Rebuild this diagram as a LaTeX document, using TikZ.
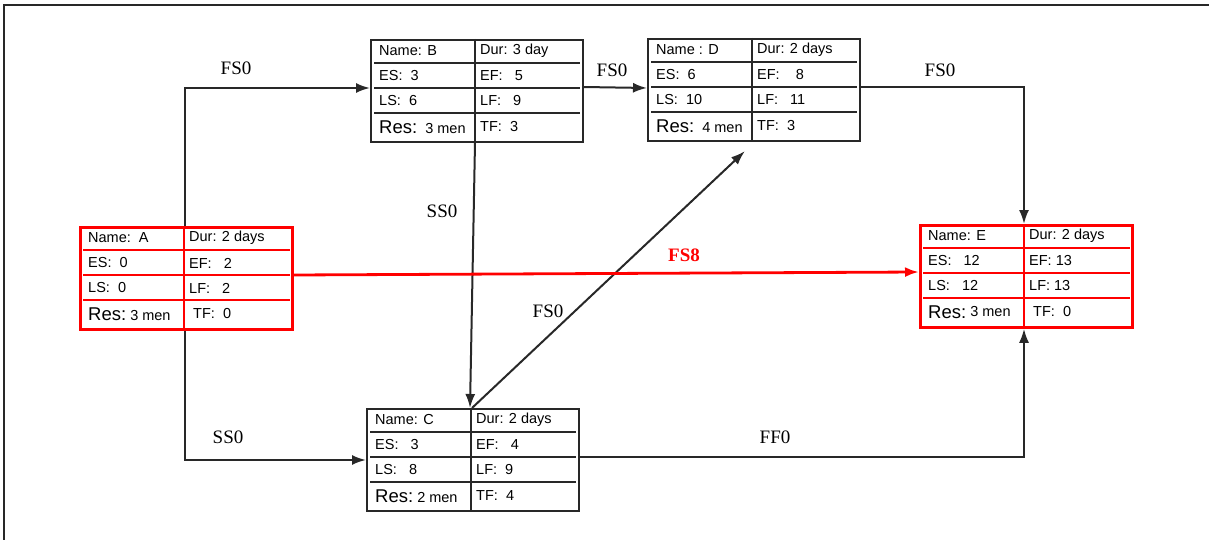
\documentclass[tikz,border=0pt]{standalone}
\usepackage{fontspec}
\setmainfont{Liberation Serif}
\newfontfamily\cellfont{Liberation Sans}
\usepackage{tikz}
\usetikzlibrary{arrows.meta,calc}
\definecolor{ink}{RGB}{40,40,40}
\definecolor{crit}{RGB}{255,0,0}

% inner lines of an activity table: node name, line style
\newcommand{\actgrid}[2]{%
  \draw[#2] ($(#1.north west)+(105,0)$) -- ($(#1.south west)+(105,0)$);
  \foreach \yy in {24,49,74}
    \draw[#2] ($(#1.north west)+(4,\yy)$) -- ($(#1.north east)+(-4,\yy)$);
}
% the eight cells of an activity table
\newcommand{\acttext}[9]{%
  \node[cell] (#1-name) at ($(#1.north west)+(9,12)$) {#2};
  \node[cell] (#1-dur) at ($(#1.north west)+(110,12)$) {#3};
  \node[cell] (#1-es) at ($(#1.north west)+(9,37)$) {#4};
  \node[cell] (#1-ef) at ($(#1.north west)+(110,37)$) {#5};
  \node[cell] (#1-ls) at ($(#1.north west)+(9,62)$) {#6};
  \node[cell] (#1-lf) at ($(#1.north west)+(110,62)$) {#7};
  \node[cell] (#1-res) at ($(#1.north west)+(9,88)$) {#8};
  \node[cell] (#1-tf) at ($(#1.north west)+(110,88)$) {#9};
}
\newcommand{\resmen}[1]{{\fontsize{18.5}{20}\selectfont Res:}~#1}

\begin{document}
\begin{tikzpicture}[x=1pt,y=-1pt,>={Latex[length=14pt,width=10pt]},
  act/.style={draw=ink,line width=1.6pt,minimum width=212pt,minimum height=102pt,anchor=north west,inner sep=0pt},
  critact/.style={act,draw=crit,line width=2.8pt},
  grid/.style={ink,line width=1.6pt},
  critgrid/.style={crit,line width=2.8pt},
  cell/.style={anchor=west,inner sep=0pt,font=\cellfont\fontsize{14.5}{16}\selectfont},
  link/.style={->,draw=ink,line width=2pt},
  critlink/.style={->,draw=crit,line width=2.8pt},
  lbl/.style={font=\fontsize{19}{21}\selectfont}]
\useasboundingbox (0,0) rectangle (1209,540);
\draw[ink,line width=2pt] (4,540) |- (1209,5);

\node[critact] (A) at (79,226) {};
\node[act] (B) at (370,39) {};
\node[act] (D) at (647,38) {};
\node[critact] (E) at (919,224) {};
\node[act] (C) at (366,408) {};

\actgrid{A}{critgrid}
\actgrid{B}{grid}
\actgrid{D}{grid}
\actgrid{E}{critgrid}
\actgrid{C}{grid}

\acttext{A}{Name:~~A}{Dur: 2 days}{ES:~~0}{EF:~~~2}{LS:~~0}{LF:~~~2}{\resmen{3 men}}{~TF:~~0}
\acttext{B}{Name: B}{Dur: 3 day}{ES:~~3}{EF:~~~5}{LS:~~6}{LF:~~~9}{\resmen{~3 men}}{TF:~~3}
\acttext{D}{Name : D}{Dur: 2 days}{ES:~~6}{EF:~~~~8}{LS:~~10}{LF:~~~11}{\resmen{~4 men}}{TF:~~3}
\acttext{E}{Name: E}{Dur: 2 days}{ES:~~~12}{EF: 13}{LS:~~~12}{LF: 13}{\resmen{\raisebox{2pt}{3 men}}}{~TF:~~0}
\acttext{C}{Name: C}{Dur: 2 days}{ES:~~~3}{EF:~~~4}{LS:~~~8}{LF:~~9}{\resmen{2 men}}{TF:~~4}

% links
\draw[link] ($(A.north west)+(106,0)$) |- ($(B.north west)+(0,49)$);
\draw[link] ($(A.south west)+(106,0)$) |- ($(C.north west)+(0,52)$);
\draw[link] ($(B.north east)+(0,48)$) -- ($(D.north west)+(0,50)$);
\draw[link] ($(D.north east)+(0,49)$) -| ($(E.north west)+(105,0)$);
\draw[link] ($(B.south west)+(105,0)$) -- ($(C.north west)+(104,0)$);
\draw[link,shorten >=14pt] ($(C.north west)+(106,0)$) -- ($(D.south west)+(108,0)$);
\draw[link] ($(C.north east)+(0,49)$) -| ($(E.south west)+(105,0)$);
\draw[critlink] ($(A.north east)+(0,49)$) -- ($(E.north west)+(0,48)$);

\node[lbl] (lab-ab) at (236,68) {FS0};
\node[lbl] (lab-bd) at (612,70) {FS0};
\node[lbl] (lab-de) at (940,70) {FS0};
\node[lbl] (lab-bc) at (442,211) {SS0};
\node[lbl] (lab-cd) at (548,311) {FS0};
\node[lbl] (lab-ac) at (228,437) {SS0};
\node[lbl] (lab-ce) at (775,437) {FF0};
\node[lbl,text=crit,font=\bfseries\fontsize{19}{21}\selectfont] (lab-ae) at (684,255) {FS8};
\end{tikzpicture}
\end{document}
